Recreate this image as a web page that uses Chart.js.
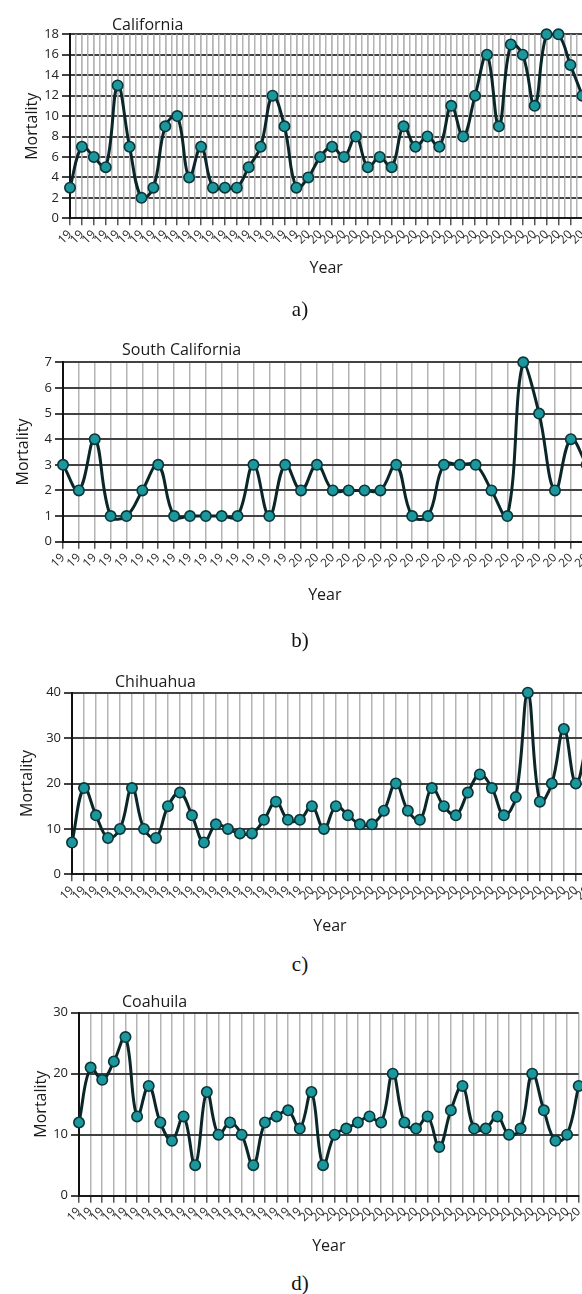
<!DOCTYPE html>
<html>
<head>
<meta charset="utf-8">
<script src="https://cdn.jsdelivr.net/npm/chart.js@4/dist/chart.umd.min.js"></script>
<style>
html,body{margin:0;padding:0;background:#fff;}
body{width:582px;height:1294px;overflow:hidden;position:relative;}
canvas{position:absolute;left:0;}
.t{position:absolute;font-family:'Open Sans',sans-serif;font-size:16px;line-height:18px;color:#1a1a1a;white-space:nowrap;}
.cap{position:absolute;left:0;width:600px;text-align:center;font-family:'Liberation Serif','Times New Roman',serif;font-size:21px;line-height:24px;color:#111;}
</style>
</head>
<body>
<canvas id="ca" width="600" height="280" style="top:0px"></canvas>
<canvas id="cb" width="600" height="287" style="top:320px"></canvas>
<canvas id="cc" width="600" height="288" style="top:650px"></canvas>
<canvas id="cd" width="600" height="278" style="top:980px"></canvas>

<div class="t" style="left:112px;top:15px">California</div>
<div class="t" style="left:122px;top:340px">South California</div>
<div class="t" style="left:115px;top:672px">Chihuahua</div>
<div class="t" style="left:122px;top:992px">Coahuila</div>

<div class="cap" style="top:297px">a)</div>
<div class="cap" style="top:628px">b)</div>
<div class="cap" style="top:952px">c)</div>
<div class="cap" style="top:1271px">d)</div>

<script>
// ---- categories (years; axis shows the first two digits, as in the source) ----
const years1980to2023 = ["1980","1981","1982","1983","1984","1985","1986","1987","1988","1989",
  "1990","1991","1992","1993","1994","1995","1996","1997","1998","1999",
  "2000","2001","2002","2003","2004","2005","2006","2007","2008","2009",
  "2010","2011","2012","2013","2014","2015","2016","2017","2018","2019",
  "2020","2021","2022","2023"];
const years1985to2018 = ["1985","1986","1987","1988","1989",
  "1990","1991","1992","1993","1994","1995","1996","1997","1998","1999",
  "2000","2001","2002","2003","2004","2005","2006","2007","2008","2009",
  "2010","2011","2012","2013","2014","2015","2016","2017","2018"];

// ---- series values (mortality) ----
const californiaValues = [3,7,6,5,13,7,2,3,9,10,4,7,3,3,3,5,7,12,9,3,4,6,7,6,8,5,6,5,9,7,8,7,11,8,12,16,9,17,16,11,18,18,15,12];
const southCaliforniaValues = [3,2,4,1,1,2,3,1,1,1,1,1,3,1,3,2,3,2,2,2,2,3,1,1,3,3,3,2,1,7,5,2,4,3];
const chihuahuaValues = [7,19,13,8,10,19,10,8,15,18,13,7,11,10,9,9,12,16,12,12,15,10,15,13,11,11,14,20,14,12,19,15,13,18,22,19,13,17,40,16,20,32,20,30];
const coahuilaValues = [12,21,19,22,26,13,18,12,9,13,5,17,10,12,10,5,12,13,14,11,17,5,10,11,12,13,12,20,12,11,13,8,14,18,11,11,13,10,11,20,14,9,10,18];

// ---- axis settings ----
const yMaxA = 18, yStepA = 2;
const yMaxB = 7,  yStepB = 1;
const yMaxC = 40, yStepC = 10;
const yMaxD = 30, yStepD = 10;

const FONT = "'Open Sans', sans-serif";

function build(id, labels, values, cfg) {
  const scales = {
    x: {
      type: 'category',
      offset: false,
      grid: { color: '#b4b4b4', lineWidth: 1.5, tickColor: '#555', tickLength: 7 },
      border: { color: '#1a1a1a', width: 2 },
      ticks: {
        autoSkip: false, maxRotation: 45, minRotation: 45, padding: 2,
        color: '#2a2a2a', font: { family: FONT, size: 12 },
        callback: function (v) { return String(this.getLabelForValue(v)).slice(0, 2); }
      },
      title: { display: true, text: 'Year', color: '#1a1a1a', font: { family: FONT, size: 16 }, padding: { top: 0, bottom: 2 } },
      afterFit: (s) => { s.height = cfg.xHeight; }
    },
    y: {
      min: 0, max: cfg.yMax,
      ticks: { stepSize: cfg.yStep, color: '#222', font: { family: FONT, size: 13 }, padding: 3 },
      grid: { color: '#424242', lineWidth: 2, tickLength: 8 },
      border: { color: '#111', width: 2 },
      title: { display: true, text: 'Mortality', color: '#1a1a1a', font: { family: FONT, size: 16 }, padding: { top: cfg.yTitlePad, bottom: 0 } },
      afterFit: (s) => { s.width = cfg.yWidth; }
    }
  };
  if (cfg.halfGrid) {
    scales.xg = {
      type: 'linear', position: 'bottom', min: 0, max: labels.length - 1,
      ticks: { stepSize: 0.5, display: false },
      grid: { color: '#b4b4b4', lineWidth: 1.5, drawTicks: false },
      border: { display: false },
      afterFit: (s) => { s.height = 0; }
    };
  }
  return new Chart(document.getElementById(id), {
    type: 'line',
    data: {
      labels: labels,
      datasets: [{
        data: values,
        xAxisID: 'x', yAxisID: 'y',
        borderColor: '#0b2628',
        borderWidth: 3,
        tension: 0.4,
        fill: false,
        clip: false,
        pointRadius: 5.2,
        pointBackgroundColor: '#1a989e',
        pointBorderColor: '#0c3538',
        pointBorderWidth: 1.6
      }]
    },
    options: {
      responsive: false,
      animation: false,
      devicePixelRatio: 1,
      layout: { padding: { top: cfg.padTop, right: cfg.padRight, left: 0, bottom: 0 } },
      plugins: { legend: { display: false }, tooltip: { enabled: false }, title: { display: false } },
      scales: scales
    }
  });
}

build('ca', years1980to2023, californiaValues,
  { yMax: yMaxA, yStep: yStepA, yWidth: 70, padTop: 34.3, padRight: 17.7, xHeight: 61.7, yTitlePad: 22.4, halfGrid: true });
build('cb', years1985to2018, southCaliforniaValues,
  { yMax: yMaxB, yStep: yStepB, yWidth: 63, padTop: 42.3, padRight: 13.3, xHeight: 65.3, yTitlePad: 13.4, halfGrid: false });
build('cc', years1980to2023, chihuahuaValues,
  { yMax: yMaxC, yStep: yStepC, yWidth: 72, padTop: 42.7, padRight: 12, xHeight: 63.7, yTitlePad: 17.4, halfGrid: false });
build('cd', years1980to2023, coahuilaValues,
  { yMax: yMaxD, yStep: yStepD, yWidth: 79, padTop: 32.7, padRight: 21.3, xHeight: 62.3, yTitlePad: 31.9, halfGrid: false });
</script>
</body>
</html>
